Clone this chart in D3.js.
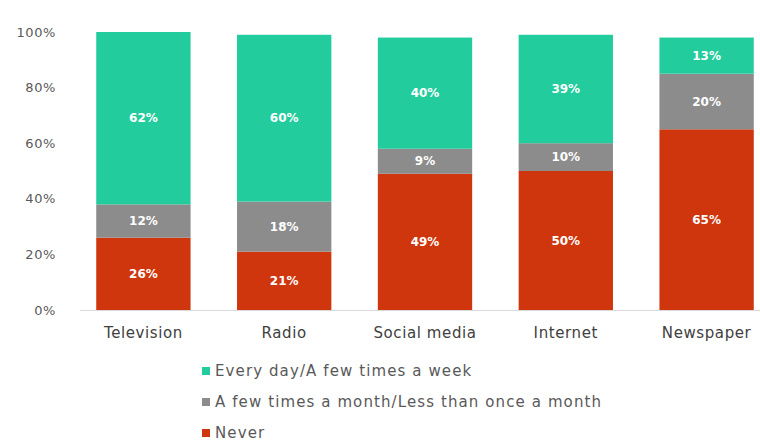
<!DOCTYPE html>
<html>
<head>
<meta charset="utf-8">
<script src="https://cdn.jsdelivr.net/npm/d3@7/dist/d3.min.js"></script>
<style>
  html, body { margin: 0; padding: 0; background: #fff; }
  svg { display: block; }
  text { font-family: "DejaVu Sans", "Noto Sans", sans-serif; }
</style>
</head>
<body>
<svg id="chart" width="760" height="442"></svg>
<script>
// Media use frequency by channel (share of respondents)
const categories = ["Television", "Radio", "Social media", "Internet", "Newspaper"];
const seriesNames = ["Never", "A few times a month/Less than once a month", "Every day/A few times a week"];
const never    = [26, 21, 49, 50, 65];
const monthly  = [12, 18, 9, 10, 20];
const weekly   = [62, 60, 40, 39, 13];
const yTicks   = [0, 20, 40, 60, 80, 100];
const legendOrder = ["Every day/A few times a week", "A few times a month/Less than once a month", "Never"];

const colors = {
  "Every day/A few times a week": "#22CC9D",
  "A few times a month/Less than once a month": "#8C8C8C",
  "Never": "#CF360D"
};

const rows = categories.map((c, i) => ({
  category: c,
  "Never": never[i],
  "A few times a month/Less than once a month": monthly[i],
  "Every day/A few times a week": weekly[i]
}));

const svg = d3.select("#chart");

const x = d3.scaleBand().domain(categories).range([73, 777]).paddingInner(0.33).paddingOuter(0.165);
const y = d3.scaleLinear().domain([0, 100]).range([310, 32]);

const layers = d3.stack().keys(seriesNames)(rows);

// y axis labels (no axis line)
const yAxis = svg.append("g")
  .attr("transform", "translate(56,0)")
  .call(d3.axisLeft(y).tickValues(yTicks).tickFormat(d => d + "%").tickSize(0).tickPadding(0));
yAxis.select(".domain").remove();
yAxis.selectAll("text").attr("fill", "#595959").attr("font-size", 13).attr("letter-spacing", 0.6);

// baseline
svg.append("line")
  .attr("x1", 80).attr("x2", 760)
  .attr("y1", y(0) + 0.5).attr("y2", y(0) + 0.5)
  .attr("stroke", "#d9d9d9").attr("stroke-width", 1);

// stacked bars with centred value labels
const g = svg.append("g");
layers.forEach(layer => {
  const key = layer.key;
  g.selectAll(null).data(layer).enter().append("rect")
    .attr("x", d => x(d.data.category))
    .attr("width", x.bandwidth())
    .attr("y", d => y(d[1]))
    .attr("height", d => y(d[0]) - y(d[1]))
    .attr("fill", colors[key]);

  g.selectAll(null).data(layer).enter().append("text")
    .attr("x", d => x(d.data.category) + x.bandwidth() / 2)
    .attr("y", d => (y(d[0]) + y(d[1])) / 2)
    .attr("dy", "0.35em")
    .attr("text-anchor", "middle")
    .attr("fill", "#ffffff")
    .attr("font-size", 12)
    .attr("font-weight", "bold")
    .text(d => d.data[key] + "%");
});

// category axis labels
const xAxis = svg.append("g")
  .attr("transform", `translate(0,${y(0)})`)
  .call(d3.axisBottom(x).tickSize(0).tickPadding(17));
xAxis.select(".domain").remove();
xAxis.selectAll("text").attr("fill", "#404040").attr("font-size", 15).attr("letter-spacing", 0.6);

// legend
const legend = svg.append("g").attr("transform", "translate(202,371)");
legendOrder.forEach((name, i) => {
  const row = legend.append("g").attr("transform", `translate(0,${i * 31})`);
  row.append("rect").attr("x", 0).attr("y", -4).attr("width", 8).attr("height", 8).attr("fill", colors[name]);
  row.append("text").attr("x", 13).attr("y", 0).attr("dy", "0.35em")
    .attr("fill", "#595959").attr("font-size", 15).attr("letter-spacing", 1.1).text(name);
});
</script>
</body>
</html>
